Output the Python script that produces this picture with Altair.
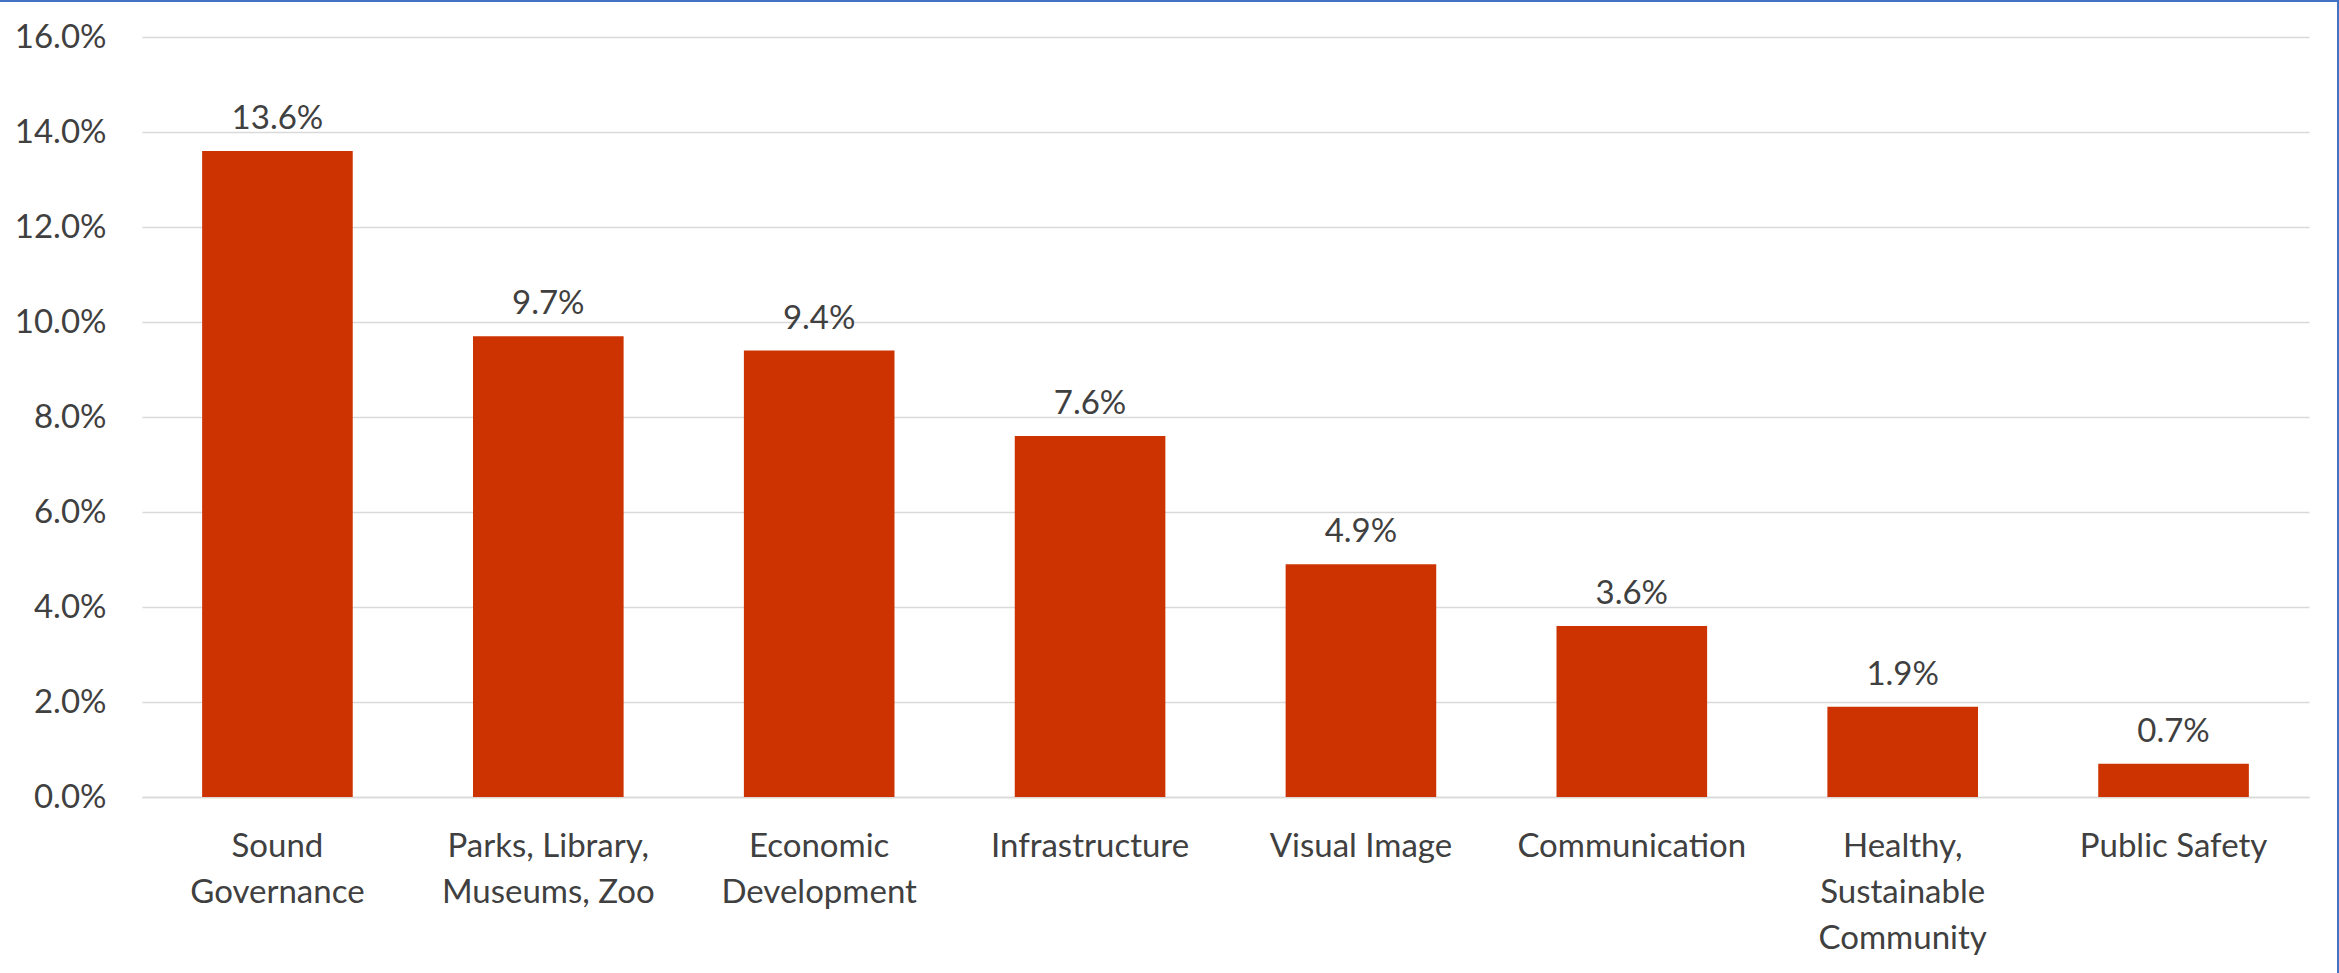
import altair as alt
import pandas as pd

categories = [
    "Sound\nGovernance",
    "Parks, Library,\nMuseums, Zoo",
    "Economic\nDevelopment",
    "Infrastructure",
    "Visual Image",
    "Communication",
    "Healthy,\nSustainable\nCommunity",
    "Public Safety",
]
values = [0.136, 0.097, 0.094, 0.076, 0.049, 0.036, 0.019, 0.007]
y_ticks = [0.0, 0.02, 0.04, 0.06, 0.08, 0.10, 0.12, 0.14, 0.16]

df = pd.DataFrame({"category": categories, "value": values})

FONT = "Lato"
FS = 33
TEXT = "#404040"
BAR = "#CC3300"
GRID = "#D9D9D9"
FRAME = "#4472C4"

W, H = 2167, 760
PAD_L, PAD_T = 142, 37

x_enc = alt.X(
    "category:N",
    sort=None,
    title=None,
    scale=alt.Scale(paddingInner=0.444, paddingOuter=0.222),
    axis=alt.Axis(
        labelExpr="split(datum.label, '\\n')",
        labelAngle=0,
        labelFont=FONT,
        labelFontSize=FS,
        labelColor=TEXT,
        labelLineHeight=46,
        labelPadding=33,
        ticks=False,
        domain=True,
        domainColor=GRID,
        domainWidth=1.5,
        labelLimit=400,
    ),
)
y_enc = alt.Y(
    "value:Q",
    title=None,
    scale=alt.Scale(domain=[0, 0.16], nice=False),
    axis=alt.Axis(
        values=y_ticks,
        format=".1%",
        labelFont=FONT,
        labelFontSize=FS,
        labelColor=TEXT,
        labelPadding=36,
        ticks=False,
        domain=False,
        grid=True,
        gridColor=GRID,
        gridWidth=1.5,
    ),
)

bars = alt.Chart(df).mark_bar(color=BAR).encode(x=x_enc, y=y_enc)

labels = alt.Chart(df).mark_text(
    font=FONT, fontSize=FS, color=TEXT, baseline="alphabetic", dy=-22
).encode(
    x=alt.X("category:N", sort=None),
    y=alt.Y("value:Q"),
    text=alt.Text("value:Q", format=".1%"),
)

frame_df = pd.DataFrame({"k": [0]})
top_line = alt.Chart(frame_df).mark_rule(color=FRAME, strokeWidth=2).encode(
    x=alt.value(-PAD_L), x2=alt.value(2339 - PAD_L), y=alt.value(-PAD_T + 1)
)
right_line = alt.Chart(frame_df).mark_rule(color=FRAME, strokeWidth=2).encode(
    x=alt.value(2338 - PAD_L), y=alt.value(-PAD_T), y2=alt.value(973 - PAD_T)
)

chart = (
    alt.layer(bars, labels, top_line, right_line)
    .properties(
        width=W,
        height=H,
        autosize=alt.AutoSizeParams(type="none"),
        padding={"left": PAD_L, "top": PAD_T, "right": 2339 - PAD_L - W, "bottom": 973 - PAD_T - H},
        background="white",
    )
    .configure_view(stroke=None)
)

chart.save("out.html", embed_options={"renderer": "svg", "actions": False})
